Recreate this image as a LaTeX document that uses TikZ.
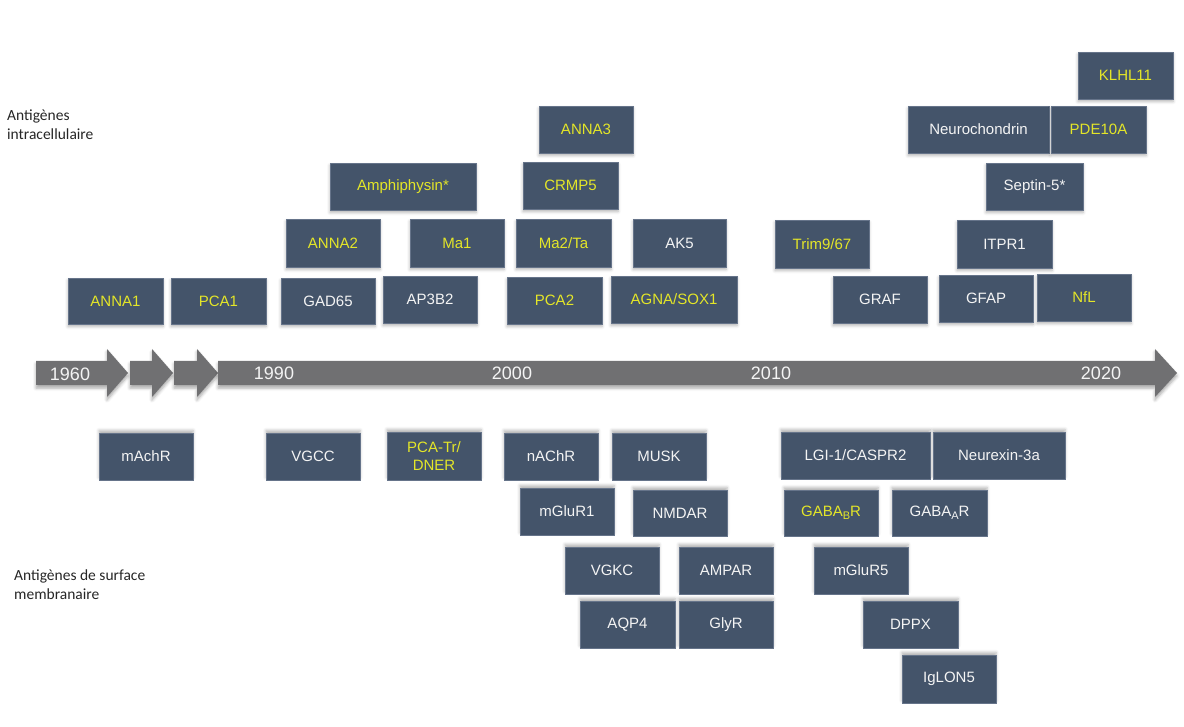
\documentclass[tikz,border=0pt]{standalone}
\usepackage{fontspec}
\setmainfont{Liberation Sans}
\newfontfamily\notefont{Carlito}
\usetikzlibrary{shadows.blur}

\definecolor{boxfill}{HTML}{44546A}
\definecolor{boxedge}{HTML}{66748A}
\definecolor{antiyel}{RGB}{228,230,40}
\definecolor{antiwht}{HTML}{F4F4F4}
\definecolor{axisgray}{HTML}{707072}
\definecolor{notegray}{HTML}{262626}

\tikzset{
  agbox/.style={fill=boxfill, draw=boxedge, line width=0.5pt, inner sep=0pt,
    font=\fontsize{15}{18}\selectfont, align=center},
  upper/.style={blur shadow={shadow xshift=0pt, shadow yshift=-2.5pt,
    shadow blur radius=3pt, shadow opacity=30}},
  lower/.style={blur shadow={shadow xshift=0pt, shadow yshift=2.5pt,
    shadow blur radius=3pt, shadow opacity=30}},
  yl/.style={text=antiyel},
  wh/.style={text=antiwht},
  yearlabel/.style={text=antiwht, font=\fontsize{18}{18}\selectfont, inner sep=0pt},
  sidenote/.style={text=notegray, font=\notefont\fontsize{15.5}{19}\selectfont,
    align=left, inner sep=0pt, anchor=base west},
  axisarrow/.style={fill=axisgray, blur shadow={shadow xshift=0pt, shadow yshift=-3pt,
    shadow blur radius=3pt, shadow opacity=35}}
}

% antigen box from its corner coordinates: name, style, x1, y1, x2, y2, text
\newcommand\agnode[7]{%
  \pgfmathsetmacro\agw{#5-#3}\pgfmathsetmacro\agh{#6-#4}%
  \node[agbox,#2,minimum width=\agw pt,minimum height=\agh pt] (#1)
    at ({(#3+#5)/2},{(#4+#6)/2}) {#7};}
\newcommand\subgaba[1]{\raisebox{-3pt}{\fontsize{11}{11}\selectfont #1}}

\begin{document}
\begin{tikzpicture}[x=1pt, y=-1pt]
\useasboundingbox (0,0) rectangle (1184,727);

% time axis: three short chevrons and the long arrow
\path[axisarrow] (36,361) -- (107,361) -- (107,349) -- (128,373) -- (107,397) -- (107,385) -- (36,385) -- cycle;
\path[axisarrow] (130,361) -- (152,361) -- (152,349) -- (173,373) -- (152,397) -- (152,385) -- (130,385) -- cycle;
\path[axisarrow] (174,361) -- (197,361) -- (197,349) -- (218,373) -- (197,397) -- (197,385) -- (174,385) -- cycle;
\path[axisarrow] (218,361) -- (1155,361) -- (1155,349) -- (1177,373) -- (1155,397) -- (1155,385) -- (218,385) -- cycle;

\node[yearlabel] (y1960) at (70,374) {1960};
\node[yearlabel] (y1990) at (274,373) {1990};
\node[yearlabel] (y2000) at (512,373) {2000};
\node[yearlabel] (y2010) at (771,373) {2010};
\node[yearlabel] (y2020) at (1101,373) {2020};

% side notes (base anchor sits on the last line)
\node[sidenote] (intra) at (7,140) {Antigènes\\intracellulaire};
\node[sidenote] (surf) at (14,599) {Antigènes de surface\\membranaire};

% intracellular antigens
\agnode{anna1}{upper,yl}{68}{278}{163}{324}{ANNA1}
\agnode{pca1}{upper,yl}{171}{278}{266}{324}{PCA1}
\agnode{gad65}{upper,wh}{281}{278}{375}{324}{GAD65}
\agnode{ap3b2}{upper,wh}{383}{276}{477}{323}{AP3B2}
\agnode{anna2}{upper,yl}{286}{219}{380}{267}{ANNA2}
\agnode{ma1}{upper,yl}{410}{219}{504}{267}{Ma1}
\agnode{amph}{upper,yl}{330}{163}{476}{210}{Amphiphysin*}
\agnode{anna3}{upper,yl}{539}{106}{633}{153}{ANNA3}
\agnode{crmp5}{upper,yl}{523}{162}{618}{209}{CRMP5}
\agnode{ma2}{upper,yl}{516}{219}{611}{267}{Ma2/Ta}
\agnode{ak5}{upper,wh}{633}{219}{726}{267}{AK5}
\agnode{pca2}{upper,yl}{507}{277}{602}{324}{PCA2}
\agnode{agna}{upper,yl}{611}{276}{737}{323}{AGNA/SOX1}
\agnode{trim}{upper,yl}{775}{220}{869}{268}{Trim9/67}
\agnode{graf}{upper,wh}{833}{276}{927}{323}{GRAF}
\agnode{klhl11}{upper,yl}{1078}{52}{1173}{99}{KLHL11}
\agnode{neuroch}{upper,wh}{908}{106}{1049}{153}{Neurochondrin}
\agnode{pde10a}{upper,yl}{1051}{106}{1146}{153}{PDE10A}
\agnode{septin}{upper,wh}{986}{163}{1083}{210}{Septin-5*}
\agnode{itpr1}{upper,wh}{957}{220}{1052}{268}{ITPR1}
\agnode{gfap}{upper,wh}{939}{275}{1033}{322}{GFAP}
\agnode{nfl}{upper,yl}{1037}{274}{1131}{321}{NfL}

% surface membrane antigens
\agnode{machr}{lower,wh}{99}{433}{193}{480}{mAchR}
\agnode{vgcc}{lower,wh}{266}{433}{360}{480}{VGCC}
\agnode{dner}{lower,yl}{387}{432}{481}{480}{PCA-Tr/\\DNER}
\agnode{nachr}{lower,wh}{504}{433}{598}{480}{nAChR}
\agnode{musk}{lower,wh}{612}{433}{706}{480}{MUSK}
\agnode{mglur1}{lower,wh}{520}{488}{614}{535}{mGluR1}
\agnode{nmdar}{lower,wh}{633}{490}{727}{536}{NMDAR}
\agnode{vgkc}{lower,wh}{565}{547}{659}{594}{VGKC}
\agnode{ampar}{lower,wh}{679}{547}{773}{594}{AMPAR}
\agnode{aqp4}{lower,wh}{580}{601}{675}{648}{AQP4}
\agnode{glyr}{lower,wh}{679}{601}{773}{648}{GlyR}
\agnode{lgi1}{lower,wh}{781}{432}{930}{479}{LGI-1/CASPR2}
\agnode{neurexin}{lower,wh}{933}{432}{1065}{479}{Neurexin-3a}
\agnode{gabab}{lower,yl}{784}{490}{878}{536}{GABA\subgaba{B}R}
\agnode{gabaa}{lower,wh}{892}{490}{987}{536}{GABA\subgaba{A}R}
\agnode{mglur5}{lower,wh}{814}{547}{908}{594}{mGluR5}
\agnode{dppx}{lower,wh}{863}{601}{958}{648}{DPPX}
\agnode{iglon5}{lower,wh}{902}{655}{996}{703}{IgLON5}
\end{tikzpicture}
\end{document}
